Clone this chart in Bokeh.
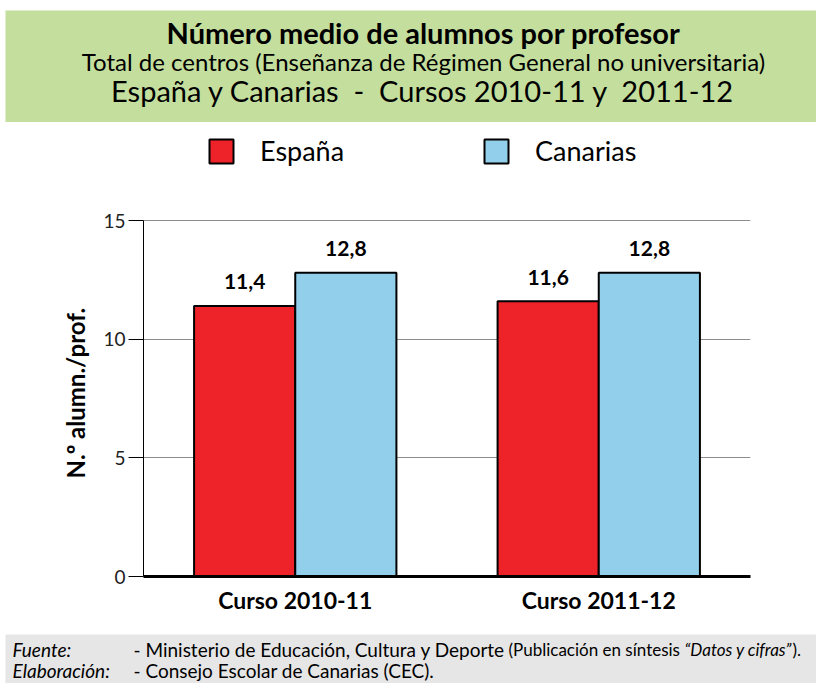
from bokeh.plotting import figure
from bokeh.models import (ColumnDataSource, FactorRange, Range1d, FixedTicker, Legend, LegendItem)
from bokeh.transform import dodge
from bokeh.layouts import column
from bokeh.core.properties import value
from bokeh.embed import file_html
from bokeh.resources import INLINE

# ---- data ----
courses = ["Curso 2010-11", "Curso 2011-12"]
espana = [11.4, 11.6]
canarias = [12.8, 12.8]
series_names = ["España", "Canarias"]
y_ticks = [0, 5, 10, 15]
y_max = 15
y_title = "N.º alumn./prof."

FONT = "Lato"
RED = "#EE2229"
BLUE = "#92CFEB"
GREEN = "#C4DE9D"
GREY = "#E6E6E6"
W = 816

def fmt(v):
    return f"{v:.1f}".replace(".", ",")

# ---- header (green box) ----
HH = 122
h = figure(width=W, height=HH, x_range=Range1d(5, W), y_range=Range1d(HH, 10),
           toolbar_location=None, output_backend="svg",
           min_border_left=5, min_border_right=0, min_border_top=10, min_border_bottom=0,
           x_axis_location=None, y_axis_location=None,
           background_fill_color=GREEN, border_fill_color="white")
h.grid.visible = False
h.outline_line_color = None
h.frame_align = False
hc = dict(text_font=value(FONT), text_align="center", text_baseline="alphabetic", text_color="black")
h.text(x=[423], y=[32], text=["Número medio de alumnos por profesor"],
       text_font_size="29px", text_font_style="bold", **hc)
h.text(x=[423], y=[61], text=["Total de centros (Enseñanza de Régimen General no universitaria)"],
       text_font_size="24px", **hc)
h.text(x=[423], y=[90], text=["España y Canarias \u00a0-\u00a0 Cursos 2010-11 y \u00a02011-12"],
       text_font_size="29px", **hc)

# ---- main chart ----
MH = 512
FRAME_LEFT = 143
FRAME_RIGHT = 750
FRAME_TOP = 98      # pixel position of y = 15 inside the figure
FRAME_BOTTOM = 454  # pixel position of y = 0 inside the figure
y_top = y_max * FRAME_BOTTOM / (FRAME_BOTTOM - FRAME_TOP)

source = ColumnDataSource(dict(course=courses, espana=espana, canarias=canarias,
                               esp_lbl=[fmt(v) for v in espana],
                               can_lbl=[fmt(v) for v in canarias]))
p = figure(width=W, height=MH, x_range=FactorRange(factors=courses, range_padding=0),
           y_range=Range1d(0, y_top), toolbar_location=None, output_backend="svg",
           min_border_left=FRAME_LEFT, min_border_right=W - FRAME_RIGHT, min_border_top=0,
           min_border_bottom=MH - FRAME_BOTTOM)
p.frame_align = False
p.outline_line_color = None
p.xgrid.visible = False
p.ygrid.grid_line_color = "#8C8C8C"
p.ygrid.grid_line_width = 1
p.yaxis.ticker = FixedTicker(ticks=y_ticks)
p.ygrid.ticker = FixedTicker(ticks=y_ticks)
p.yaxis.bounds = (0, y_max)

r1 = p.vbar(x=dodge("course", -1/6, range=p.x_range), top="espana", width=1/3, source=source,
            fill_color=RED, line_color="black", line_width=2)
r2 = p.vbar(x=dodge("course", 1/6, range=p.x_range), top="canarias", width=1/3, source=source,
            fill_color=BLUE, line_color="black", line_width=2)
lbl = dict(text_font=value(FONT), text_font_size="21px", text_font_style="bold",
           text_align="center", text_baseline="middle", y_offset=-24, text_color="black")
p.text(x=dodge("course", -1/6, range=p.x_range), y="espana", text="esp_lbl", source=source, **lbl)
p.text(x=dodge("course", 1/6, range=p.x_range), y="canarias", text="can_lbl", source=source, **lbl)

# axes
p.xaxis.axis_line_width = 3
p.xaxis.axis_line_color = "black"
p.xaxis.major_tick_line_color = None
p.xaxis.minor_tick_line_color = None
p.xaxis.major_label_text_font = FONT
p.xaxis.major_label_text_font_size = "23px"
p.xaxis.major_label_text_font_style = "bold"
p.xaxis.major_label_text_color = "black"
p.xaxis.major_label_standoff = 3

p.yaxis.axis_line_color = "black"
p.yaxis.axis_line_width = 1
p.yaxis.major_tick_out = 15
p.yaxis.major_tick_in = 0
p.yaxis.major_tick_line_color = "black"
p.yaxis.minor_tick_line_color = None
p.yaxis.major_label_text_font = FONT
p.yaxis.major_label_text_font_size = "19px"
p.yaxis.major_label_text_color = "#222222"
p.yaxis.major_label_standoff = 3
# trailing no-break spaces move the visible title down onto the 0-15 part of the axis
p.yaxis.axis_label = y_title + "\u00a0" * 15
p.yaxis.axis_label_text_font = FONT
p.yaxis.axis_label_text_font_size = "24px"
p.yaxis.axis_label_text_font_style = "bold"
p.yaxis.axis_label_text_color = "black"
p.yaxis.axis_label_standoff = 10

legend = Legend(items=[LegendItem(label=series_names[0], renderers=[r1]),
                       LegendItem(label=series_names[1], renderers=[r2])],
                orientation="horizontal", location=(63, FRAME_BOTTOM - 45),
                glyph_width=30, glyph_height=30, label_standoff=24,
                label_width=100, spacing=121, padding=0, margin=0,
                label_text_font=FONT, label_text_font_size="27px", label_text_color="black",
                border_line_alpha=0, background_fill_alpha=0)
p.add_layout(legend)

# ---- footer (grey box) ----
FY0 = 634
FH = 49
f = figure(width=W, height=FH, x_range=Range1d(5, W), y_range=Range1d(FY0 + FH, FY0),
           toolbar_location=None, output_backend="svg",
           min_border_left=5, min_border_right=0, min_border_top=0, min_border_bottom=0,
           x_axis_location=None, y_axis_location=None,
           background_fill_color=GREY, border_fill_color="white")
f.grid.visible = False
f.outline_line_color = None
f.frame_align = False
common = dict(text_font=value(FONT), text_baseline="alphabetic", text_color="black")
f.text(x=[12, 12], y=[649, 670], text=["Fuente:", "Elaboración:"], text_font_size="19px",
       text_font_style="italic", **common)
f.text(x=[133, 133], y=[649, 670],
       text=["- Ministerio de Educación, Cultura y Deporte", "- Consejo Escolar de Canarias (CEC)."],
       text_font_size="19px", **common)
f.text(x=[508], y=[649], text=["(Publicación en síntesis"], text_font_size="17px", **common)
f.text(x=[684], y=[649], text=["“Datos y cifras”"], text_font_size="17px",
       text_font_style="italic", **common)
f.text(x=[792], y=[649], text=[")."], text_font_size="17px", **common)

layout = column(h, p, f, spacing=0)
open("out.html", "w").write(file_html(layout, INLINE))
